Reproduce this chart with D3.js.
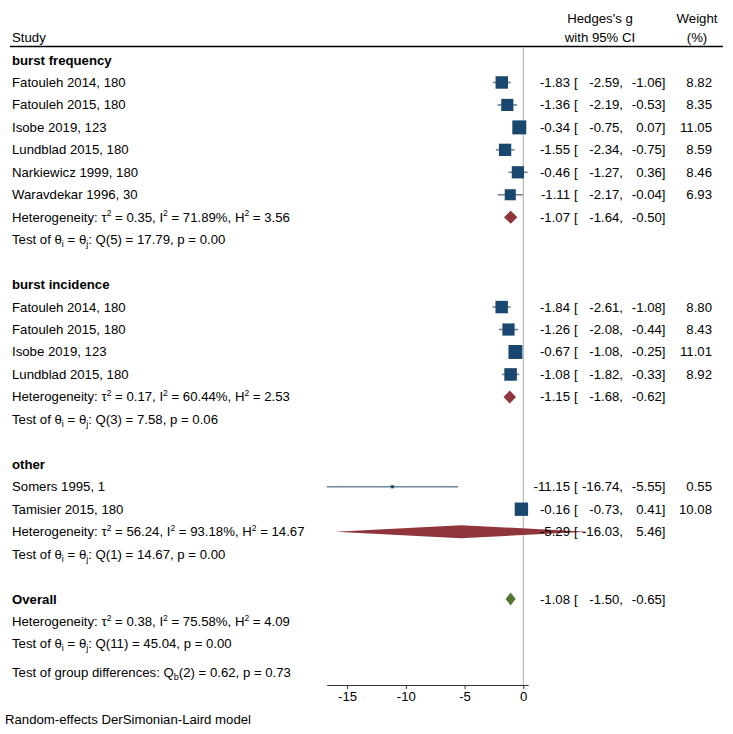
<!DOCTYPE html>
<html><head><meta charset="utf-8">
<script src="https://cdn.jsdelivr.net/npm/d3@7"></script>
<style>body{margin:0;background:#fff}svg{font-family:"Liberation Sans",Arial,sans-serif}</style>
</head><body><svg id="c" width="733" height="734"></svg>
<script>
// ---- data ----
const groups = ["burst frequency", "burst incidence", "other"];
const studies = ["Fatouleh 2014, 180","Fatouleh 2015, 180","Isobe 2019, 123","Lundblad 2015, 180","Narkiewicz 1999, 180","Waravdekar 1996, 30",
                 "Fatouleh 2014, 180","Fatouleh 2015, 180","Isobe 2019, 123","Lundblad 2015, 180",
                 "Somers 1995, 1","Tamisier 2015, 180"];
const studyGroup = [0,0,0,0,0,0,1,1,1,1,2,2];
const es  = [-1.83,-1.36,-0.34,-1.55,-0.46,-1.11, -1.84,-1.26,-0.67,-1.08, -11.15,-0.16];
const lo  = [-2.59,-2.19,-0.75,-2.34,-1.27,-2.17, -2.61,-2.08,-1.08,-1.82, -16.74,-0.73];
const hi  = [-1.06,-0.53, 0.07,-0.75, 0.36,-0.04, -1.08,-0.44,-0.25,-0.33, -5.55, 0.41];
const wt  = [8.82,8.35,11.05,8.59,8.46,6.93, 8.80,8.43,11.01,8.92, 0.55,10.08];
const subEs = [-1.07,-1.15,-5.29];
const subLo = [-1.64,-1.68,-16.03];
const subHi = [-0.50,-0.62,5.46];
const subTau2 = ["0.35","0.17","56.24"];
const subI2 = ["71.89","60.44","93.18"];
const subH2 = ["3.56","2.53","14.67"];
const subQdf = [5,3,1];
const subQ = ["17.79","7.58","14.67"];
const subP = ["0.00","0.06","0.00"];
const overall = {es:-1.08, lo:-1.50, hi:-0.65, tau2:"0.38", i2:"75.58", h2:"4.09", df:11, q:"45.04", p:"0.00"};
const groupDiff = {df:2, q:"0.62", p:"0.73"};
const xTicks = [-15,-10,-5,0];

// ---- layout ----
const svg = d3.select("#c");
const loc = d3.formatLocale({decimal:".", thousands:",", grouping:[3], currency:["",""], minus:"-"});
const f2 = loc.format(".2f");
const fInt = loc.format("d");
const x = d3.scaleLinear().domain([-16.74, 0.41]).range([326.7, 528.1]);
const rowY = d3.scaleLinear().domain([0, 1]).range([60, 82.46]);
const fs = 13.2;
const sqColor = "#1a476f", ciColor = "#6f8597", subColor = "#90353b", ovColor = "#55752f";

// build rows
const rows = [];
let r = 0;
groups.forEach((g, gi) => {
  rows.push({type:"group", label:g, r:r++});
  studies.forEach((s, i) => { if (studyGroup[i] === gi) rows.push({type:"study", i, r:r++}); });
  rows.push({type:"het", gi, r:r++});
  rows.push({type:"test", gi, r:r++});
  r++;
});
rows.push({type:"overall", r:r++});
rows.push({type:"ohet", r:r++});
rows.push({type:"otest", r:r++});
const lastR = r;

// header
svg.append("text").attr("x",12).attr("y",42).attr("font-size",fs).text("Study");
svg.append("text").attr("x",600).attr("y",23).attr("font-size",fs).attr("text-anchor","middle").text("Hedges's g");
svg.append("text").attr("x",600).attr("y",42).attr("font-size",fs).attr("text-anchor","middle").text("with 95% CI");
svg.append("text").attr("x",697).attr("y",23).attr("font-size",fs).attr("text-anchor","middle").text("Weight");
svg.append("text").attr("x",697).attr("y",42).attr("font-size",fs).attr("text-anchor","middle").text("(%)");
svg.append("line").attr("x1",10).attr("x2",723).attr("y1",46.5).attr("y2",46.5).attr("stroke","#000").attr("stroke-width",1.5);

// zero line
svg.append("line").attr("x1",x(0)).attr("x2",x(0)).attr("y1",47).attr("y2",685).attr("stroke","#a8a8a8").attr("stroke-width",1);

// axis
const axisG = svg.append("g").attr("transform","translate(0,685)")
  .call(d3.axisBottom(x).tickValues(xTicks).tickFormat(fInt).tickSize(4).tickSizeOuter(0).tickPadding(3));
axisG.select(".domain").attr("stroke","#333");
axisG.selectAll(".tick line").attr("stroke","#333");
axisG.selectAll(".tick text").attr("font-size",fs).attr("font-family","Liberation Sans, Arial, sans-serif").attr("fill","#000");

function ciText(y, e, l, h, w) {
  const t = (xx, s) => svg.append("text").attr("x",xx).attr("y",y+4.5).attr("font-size",fs).attr("text-anchor","end").text(s);
  t(570, f2(e));
  svg.append("text").attr("x",574).attr("y",y+4.5).attr("font-size",fs).text("[");
  t(623, f2(l)+","); t(665.5, f2(h)+"]");
  if (w !== undefined) t(712, f2(w));
}
function diamond(y, e, l, h, col) {
  const hh = 6.5;
  svg.append("path").attr("d", `M${x(l)},${y} L${x(e)},${y-hh} L${x(h)},${y} L${x(e)},${y+hh} Z`).attr("fill", col);
}
function hetText(y, tau2, i2, h2) {
  const t = svg.append("text").attr("x",12).attr("y",y+4.5).attr("font-size",fs);
  t.append("tspan").text("Heterogeneity: τ");
  t.append("tspan").attr("font-size",8.5).attr("dy",-5.5).text("2");
  t.append("tspan").attr("dy",5.5).text(` = ${tau2}, I`);
  t.append("tspan").attr("font-size",8.5).attr("dy",-5.5).text("2");
  t.append("tspan").attr("dy",5.5).text(` = ${i2}%, H`);
  t.append("tspan").attr("font-size",8.5).attr("dy",-5.5).text("2");
  t.append("tspan").attr("dy",5.5).text(` = ${h2}`);
}
function testText(y, df, q, p) {
  const t = svg.append("text").attr("x",12).attr("y",y+4.5).attr("font-size",fs);
  t.append("tspan").text("Test of θ");
  t.append("tspan").attr("font-size",9).attr("dy",3).text("i");
  t.append("tspan").attr("dy",-3).text(" = θ");
  t.append("tspan").attr("font-size",9).attr("dy",3).text("j");
  t.append("tspan").attr("dy",-3).text(`: Q(${df}) = ${q}, p = ${p}`);
}

rows.forEach(d => {
  const y = rowY(d.r);
  if (d.type === "group") {
    svg.append("text").attr("x",12).attr("y",y+4.5).attr("font-size",fs).attr("font-weight","bold").text(d.label);
  } else if (d.type === "study") {
    const i = d.i;
    svg.append("text").attr("x",12).attr("y",y+4.5).attr("font-size",fs).text(studies[i]);
    svg.append("line").attr("x1",x(lo[i])).attr("x2",x(hi[i])).attr("y1",y).attr("y2",y).attr("stroke",ciColor).attr("stroke-width",1.6);
    const s = 4.2 * Math.sqrt(wt[i]);
    svg.append("rect").attr("x",x(es[i])-s/2).attr("y",y-s/2).attr("width",s).attr("height",s).attr("fill",sqColor);
    ciText(y, es[i], lo[i], hi[i], wt[i]);
  } else if (d.type === "het") {
    hetText(y, subTau2[d.gi], subI2[d.gi], subH2[d.gi]);
    diamond(y, subEs[d.gi], subLo[d.gi], subHi[d.gi], subColor);
    ciText(y, subEs[d.gi], subLo[d.gi], subHi[d.gi]);
  } else if (d.type === "test") {
    testText(y, subQdf[d.gi], subQ[d.gi], subP[d.gi]);
  } else if (d.type === "overall") {
    svg.append("text").attr("x",12).attr("y",y+4.5).attr("font-size",fs).attr("font-weight","bold").text("Overall");
    diamond(y, overall.es, overall.lo, overall.hi, ovColor);
    ciText(y, overall.es, overall.lo, overall.hi);
  } else if (d.type === "ohet") {
    hetText(y, overall.tau2, overall.i2, overall.h2);
  } else if (d.type === "otest") {
    testText(y, overall.df, overall.q, overall.p);
  }
});

// group differences
{
  const y = rowY(lastR - 1) + 29;
  const t = svg.append("text").attr("x",12).attr("y",y+4.5).attr("font-size",fs);
  t.append("tspan").text("Test of group differences: Q");
  t.append("tspan").attr("font-size",9).attr("dy",3).text("b");
  t.append("tspan").attr("dy",-3).text(`(${groupDiff.df}) = ${groupDiff.q}, p = ${groupDiff.p}`);
}
svg.append("text").attr("x",5).attr("y",724).attr("font-size",fs).text("Random-effects DerSimonian-Laird model");
</script></body></html>
